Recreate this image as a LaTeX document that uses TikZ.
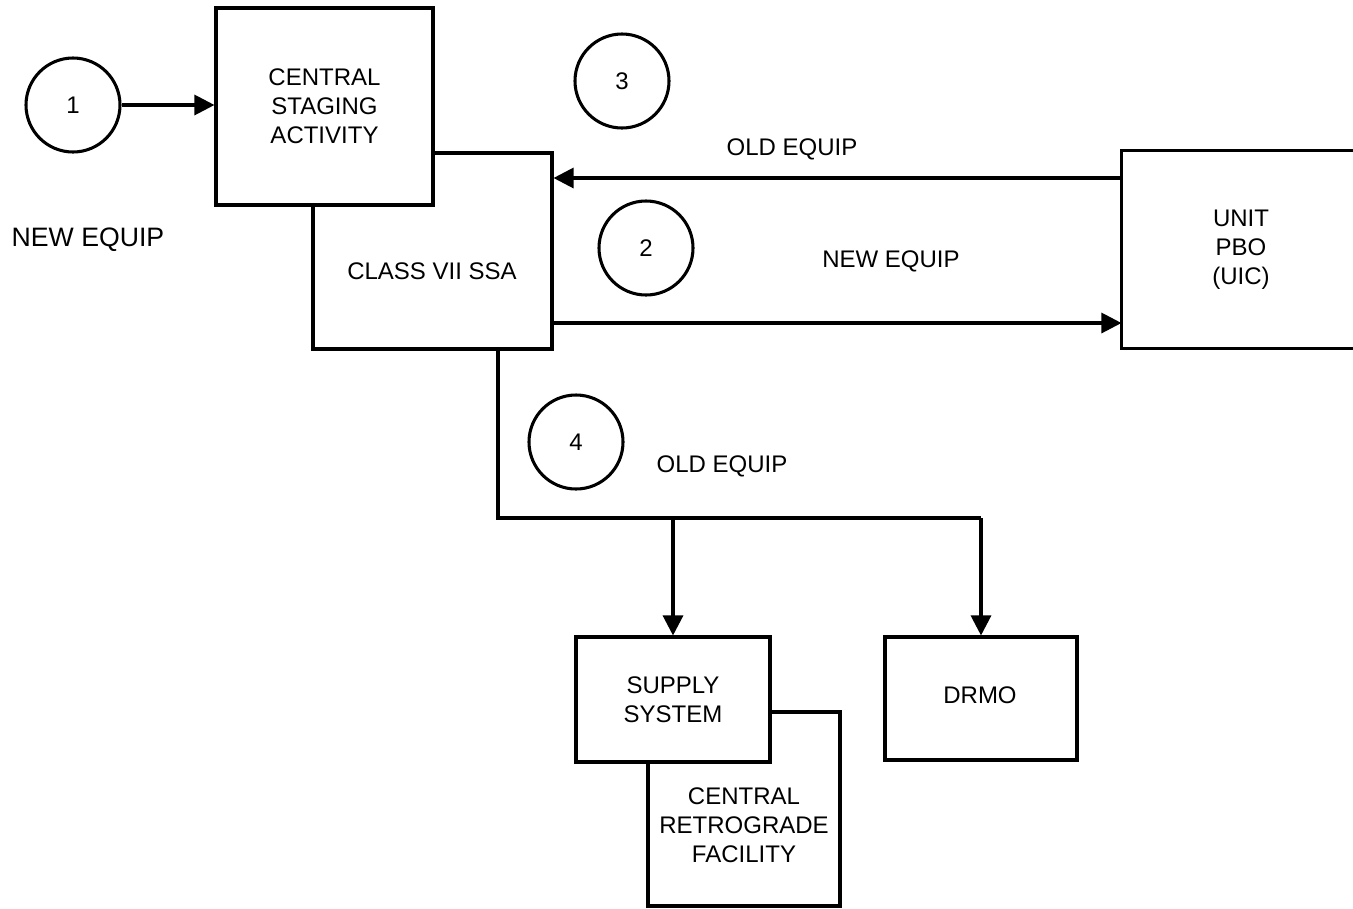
\documentclass[tikz,border=0pt]{standalone}
\usepackage{fontspec}
\setmainfont{Liberation Sans}
\usetikzlibrary{arrows.meta}
\begin{document}
\begin{tikzpicture}[x=0.75pt,y=-0.75pt,
  line width=2.3pt,
  every node/.style={font=\fontsize{18}{21.75}\selectfont, align=center},
  box/.style={draw, rectangle, inner sep=0pt, fill=white},
  circ/.style={draw, circle, minimum size=70.5pt, inner sep=0pt},
  lbl/.style={inner sep=0pt},
  arr/.style={-{Triangle[length=15pt,width=15pt]}}]
\useasboundingbox (0,0) rectangle (1353,908);
% boxes
\node[box, minimum width=179.25pt, minimum height=147pt] (ssa) at (432.5,251) {};
\node[box, minimum width=162.75pt, minimum height=147.75pt] (csa) at (324.5,106.5) {CENTRAL\\STAGING\\ACTIVITY};
\node[lbl] (ssat) at (432,271) {CLASS VII SSA};
\node[minimum width=177pt, minimum height=146.25pt, inner sep=0pt] (unit) at (1241,249.5) {UNIT\\PBO\\(UIC)};
\draw (unit.north east) -- (unit.north west) -- (unit.south west) -- (unit.south east);
\node[box, minimum width=144pt, minimum height=145.5pt] (crf) at (744,809) {};
\node[lbl] (crft) at (744,825) {CENTRAL\\RETROGRADE\\FACILITY};
\node[box, minimum width=145.5pt, minimum height=93.75pt] (supply) at (673,699.5) {SUPPLY\\SYSTEM};
\node[box, minimum width=144pt, minimum height=92.25pt] (drmo) at (981,698.5) {};
\node[lbl] (drmot) at (980,695) {DRMO};
% circles
\node[circ] (c1) at (73,105) {1};
\node[circ] (c3) at (622,81) {3};
\node[circ] (c2) at (646,248) {2};
\node[circ] (c4) at (576,442) {4};
% labels
\node[lbl, font=\fontsize{20}{24}\selectfont] (ne1) at (88,240) {NEW EQUIP};
\node[lbl] (oe1) at (792,149) {OLD EQUIP};
\node[lbl] (ne2) at (891,261) {NEW EQUIP};
\node[lbl] (oe2) at (722,466) {OLD EQUIP};
% connectors
\coordinate (yold) at (0,178);
\coordinate (ynew) at (0,323);
\coordinate (j) at (498,518);
\draw[arr] (c1.east) -- (csa.west |- c1.east);
\draw[arr] (unit.west |- yold) -- (ssa.east |- yold);
\draw[arr] (ssa.east |- ynew) -- (unit.west |- ynew);
\draw (ssa.south -| j) -- (j) -- (drmo.north |- j);
\draw[arr] (supply.north |- j) -- (supply.north);
\draw[arr] (drmo.north |- j) -- (drmo.north);
\end{tikzpicture}
\end{document}
